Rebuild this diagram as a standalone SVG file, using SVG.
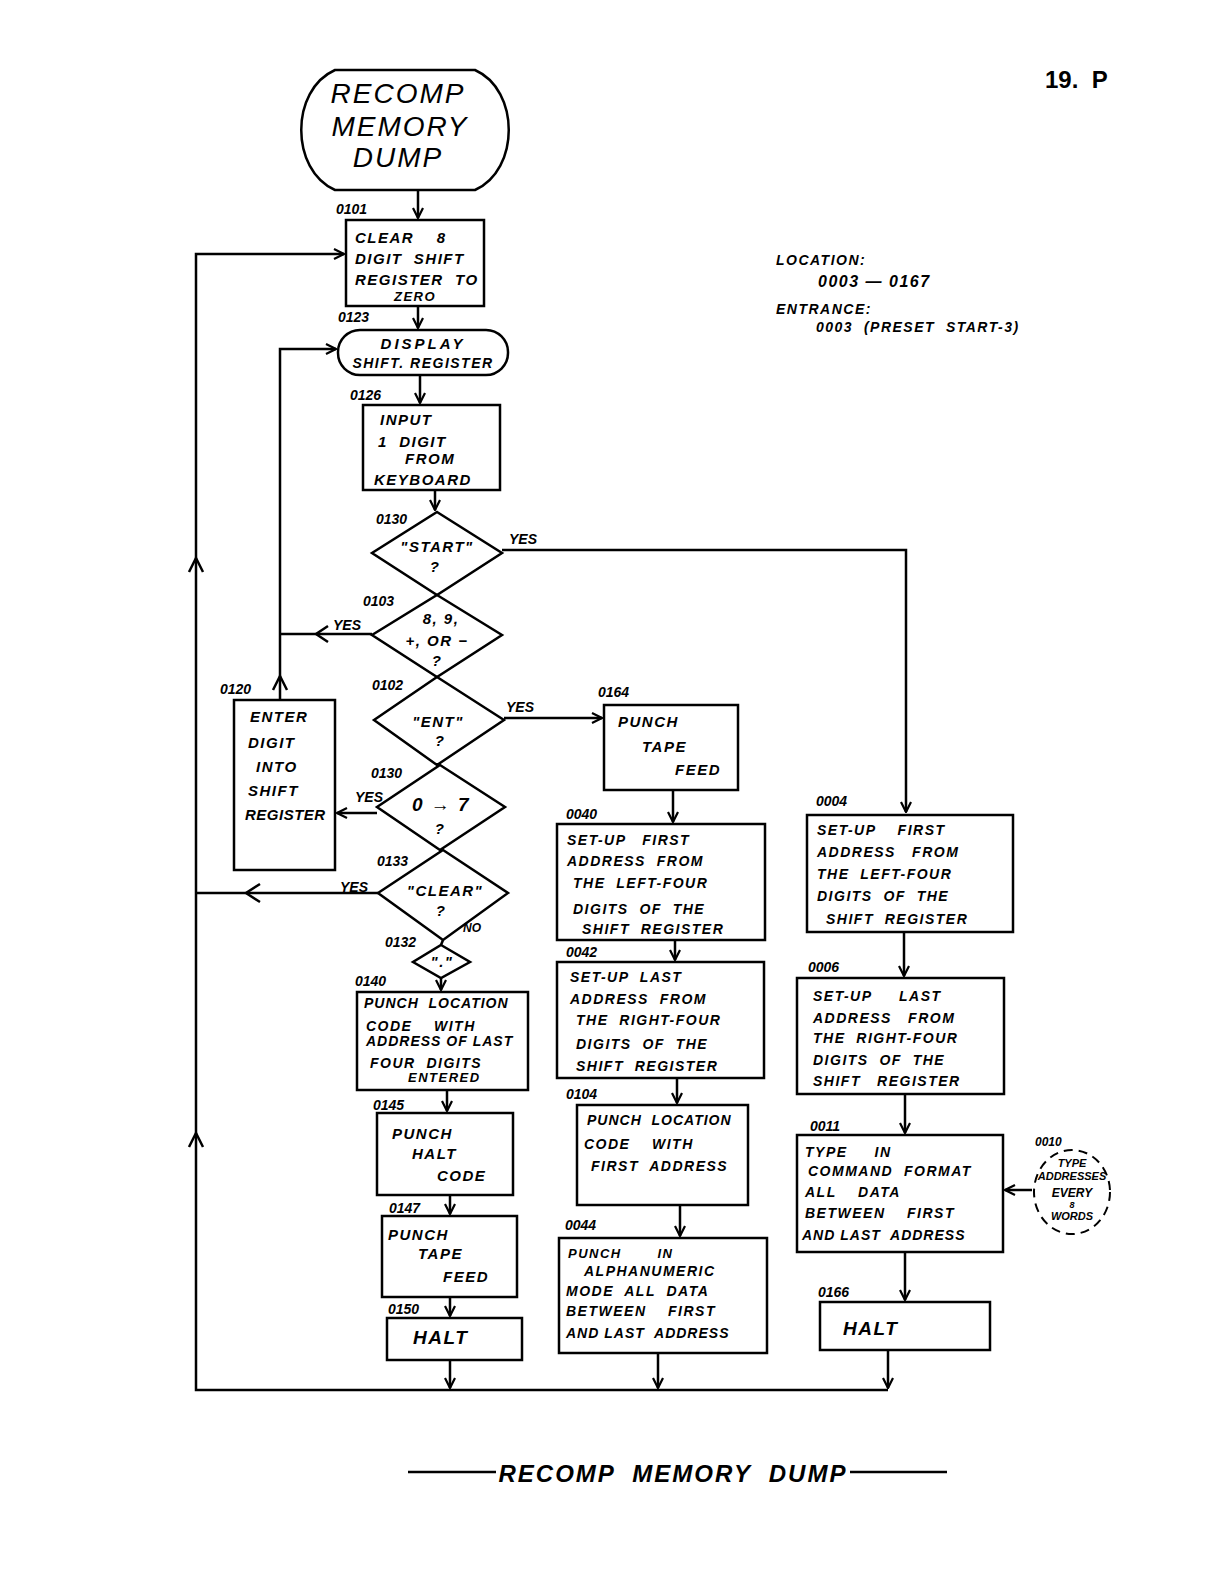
<svg xmlns="http://www.w3.org/2000/svg" width="1224" height="1584" viewBox="0 0 1224 1584">
<defs>
<marker id="ah" viewBox="0 0 12 12" refX="11" refY="6" markerWidth="12" markerHeight="12" markerUnits="userSpaceOnUse" orient="auto">
<path d="M1,1 L11,6 L1,11" fill="none" stroke="#000" stroke-width="2.2"/>
</marker>
</defs>
<style>
.s{fill:none;stroke:#000;stroke-width:2.5}
.c{fill:none;stroke:#000;stroke-width:2.5}
.t{font-family:"Liberation Sans",Arial,sans-serif;font-style:italic;font-weight:bold;font-size:15px;letter-spacing:1.5px;fill:#000;white-space:pre}
.m{text-anchor:middle}
.l{font-family:"Liberation Sans",Arial,sans-serif;font-style:italic;font-weight:bold;font-size:14px;fill:#000}
.big{font-family:"Liberation Sans",Arial,sans-serif;font-style:italic;font-size:28px;letter-spacing:2px;fill:#000}
</style>
<rect width="1224" height="1584" fill="#fff"/>

<g id="connectors">
<path class="c" d="M418,190 L418,218" marker-end="url(#ah)"/>
<path class="c" d="M418,306 L418,328" marker-end="url(#ah)"/>
<path class="c" d="M420,375 L420,403" marker-end="url(#ah)"/>
<path class="c" d="M435,490 L435,510" marker-end="url(#ah)"/>
<path class="c" d="M502,550 L906,550 L906,812" marker-end="url(#ah)"/>
<path class="c" d="M372,634 L280,634"/>
<path class="c" d="M328,626 L316,634 L328,642"/>
<path class="c" d="M280,700 L280,349 L336,349" marker-end="url(#ah)"/>
<path class="c" d="M273,690 L280,676 L287,690"/>
<path class="c" d="M504,718 L602,718" marker-end="url(#ah)"/>
<path class="c" d="M377,813 L337,813" marker-end="url(#ah)"/>
<path class="c" d="M378,893 L196,893"/>
<path class="c" d="M260,884 L246,893 L260,902"/>
<path class="c" d="M443,940 L441,945"/>
<path class="c" d="M441,978 L441,990" marker-end="url(#ah)"/>
<path class="c" d="M447,1090 L447,1111" marker-end="url(#ah)"/>
<path class="c" d="M450,1195 L450,1214" marker-end="url(#ah)"/>
<path class="c" d="M450,1297 L450,1316" marker-end="url(#ah)"/>
<path class="c" d="M450,1360 L450,1388" marker-end="url(#ah)"/>
<path class="c" d="M673,790 L673,822" marker-end="url(#ah)"/>
<path class="c" d="M675,940 L675,960" marker-end="url(#ah)"/>
<path class="c" d="M677,1078 L677,1103" marker-end="url(#ah)"/>
<path class="c" d="M680,1205 L680,1236" marker-end="url(#ah)"/>
<path class="c" d="M658,1353 L658,1388" marker-end="url(#ah)"/>
<path class="c" d="M904,932 L904,976" marker-end="url(#ah)"/>
<path class="c" d="M905,1094 L905,1133" marker-end="url(#ah)"/>
<path class="c" d="M1032,1190 L1005,1190" marker-end="url(#ah)"/>
<path class="c" d="M905,1252 L905,1300" marker-end="url(#ah)"/>
<path class="c" d="M888,1350 L888,1388" marker-end="url(#ah)"/>
<path class="c" d="M888,1390 L196,1390 L196,254 L344,254" marker-end="url(#ah)"/>
<path class="c" d="M189,572 L196,558 L203,572"/>
<path class="c" d="M189,1147 L196,1133 L203,1147"/>
</g>

<g id="n_start">
<path class="s" d="M335,70 L475,70 C520,90 520,170 475,190 L335,190 C290,170 290,90 335,70 Z"/>
<text class="big m" x="398" y="103">RECOMP</text>
<text class="big m" x="400" y="136">MEMORY</text>
<text class="big m" x="398" y="167">DUMP</text>
</g>

<g id="n_0101">
<rect class="s" x="346" y="220" width="138" height="86"/>
<text class="l" x="336" y="214">0101</text>
<text class="t" x="355" y="243">CLEAR    8</text>
<text class="t" x="355" y="264">DIGIT  SHIFT</text>
<text class="t" x="355" y="285">REGISTER  TO</text>
<text class="t m" x="415" y="301" style="font-size:13px">ZERO</text>
</g>

<g id="n_0123">
<rect class="s" x="338" y="330" width="170" height="45" rx="22" ry="22"/>
<text class="l" x="338" y="322">0123</text>
<text class="t m" x="423" y="349" style="letter-spacing:3px">DISPLAY</text>
<text class="t m" x="423" y="368" style="font-size:14px">SHIFT. REGISTER</text>
</g>

<g id="n_0126">
<rect class="s" x="363" y="405" width="137" height="85"/>
<text class="l" x="350" y="400">0126</text>
<text class="t" x="380" y="425">INPUT</text>
<text class="t" x="378" y="447">1  DIGIT</text>
<text class="t" x="405" y="464">FROM</text>
<text class="t" x="374" y="485">KEYBOARD</text>
</g>

<g id="n_0130a">
<polygon class="s" points="437,512 502,553 437,595 372,553"/>
<text class="l" x="376" y="524">0130</text>
<text class="t m" x="437" y="552">"START"</text>
<text class="t m" x="435" y="572">?</text>
<text class="l" x="509" y="544">YES</text>
</g>

<g id="n_0103">
<polygon class="s" points="437,595 502,635 437,677 372,635"/>
<text class="l" x="363" y="606">0103</text>
<text class="t m" x="441" y="624">8, 9,</text>
<text class="t m" x="437" y="646">+, OR −</text>
<text class="t m" x="437" y="666">?</text>
<text class="l" x="333" y="630">YES</text>
</g>

<g id="n_0102">
<polygon class="s" points="437,677 504,720 437,765 374,720"/>
<text class="l" x="372" y="690">0102</text>
<text class="t m" x="438" y="727">"ENT"</text>
<text class="t m" x="440" y="746">?</text>
<text class="l" x="506" y="712">YES</text>
</g>

<g id="n_0130b">
<polygon class="s" points="440,765 505,807 440,850 377,807"/>
<text class="l" x="371" y="778">0130</text>
<text class="t m" x="441" y="811" style="font-size:19px">0 → 7</text>
<text class="t m" x="440" y="834">?</text>
<text class="l" x="355" y="802">YES</text>
</g>

<g id="n_0120">
<rect class="s" x="234" y="700" width="101" height="170"/>
<text class="l" x="220" y="694">0120</text>
<text class="t" x="250" y="722">ENTER</text>
<text class="t" x="248" y="748">DIGIT</text>
<text class="t" x="256" y="772">INTO</text>
<text class="t" x="248" y="796">SHIFT</text>
<text class="t" x="245" y="820" style="letter-spacing:0.5px">REGISTER</text>
</g>

<g id="n_0133">
<polygon class="s" points="443,850 508,893 443,940 378,893"/>
<text class="l" x="377" y="866">0133</text>
<text class="t m" x="445" y="896">"CLEAR"</text>
<text class="t m" x="441" y="916">?</text>
<text class="l" x="340" y="892">YES</text>
<text class="l" x="463" y="932" style="font-size:12px">NO</text>
</g>

<g id="n_0132">
<polygon class="s" points="441,945 470,962 441,978 413,962"/>
<text class="l" x="385" y="947">0132</text>
<text class="t m" x="442" y="967">"."</text>
</g>

<g id="n_0140">
<rect class="s" x="357" y="992" width="171" height="98"/>
<text class="l" x="355" y="986">0140</text>
<text class="t" x="364" y="1008" style="font-size:14px;letter-spacing:1px">PUNCH  LOCATION</text>
<text class="t" x="366" y="1031" style="font-size:14px">CODE    WITH</text>
<text class="t" x="366" y="1046" style="font-size:14px;letter-spacing:1px">ADDRESS OF LAST</text>
<text class="t" x="370" y="1068" style="font-size:14px">FOUR  DIGITS</text>
<text class="t" x="408" y="1082" style="font-size:13px">ENTERED</text>
</g>

<g id="n_0145">
<rect class="s" x="377" y="1113" width="136" height="82"/>
<text class="l" x="373" y="1110">0145</text>
<text class="t" x="392" y="1139">PUNCH</text>
<text class="t" x="412" y="1159">HALT</text>
<text class="t" x="437" y="1181">CODE</text>
</g>

<g id="n_0147">
<rect class="s" x="382" y="1216" width="135" height="81"/>
<text class="l" x="389" y="1213">0147</text>
<text class="t" x="388" y="1240">PUNCH</text>
<text class="t" x="418" y="1259">TAPE</text>
<text class="t" x="443" y="1282">FEED</text>
</g>

<g id="n_0150">
<rect class="s" x="387" y="1318" width="135" height="42"/>
<text class="l" x="388" y="1314">0150</text>
<text class="t" x="413" y="1344" style="font-size:19px">HALT</text>
</g>

<g id="n_0164">
<rect class="s" x="604" y="705" width="134" height="85"/>
<text class="l" x="598" y="697">0164</text>
<text class="t" x="618" y="727">PUNCH</text>
<text class="t" x="642" y="752">TAPE</text>
<text class="t" x="675" y="775">FEED</text>
</g>

<g id="n_0040">
<rect class="s" x="557" y="824" width="208" height="116"/>
<text class="l" x="566" y="819">0040</text>
<text class="t" x="567" y="845" style="font-size:14px">SET-UP   FIRST</text>
<text class="t" x="567" y="866" style="font-size:14px">ADDRESS  FROM</text>
<text class="t" x="573" y="888" style="font-size:14px">THE  LEFT-FOUR</text>
<text class="t" x="573" y="914" style="font-size:14px">DIGITS  OF  THE</text>
<text class="t" x="582" y="934" style="font-size:14px">SHIFT  REGISTER</text>
</g>

<g id="n_0042">
<rect class="s" x="557" y="962" width="207" height="116"/>
<text class="l" x="566" y="957">0042</text>
<text class="t" x="570" y="982" style="font-size:14px">SET-UP  LAST</text>
<text class="t" x="570" y="1004" style="font-size:14px">ADDRESS  FROM</text>
<text class="t" x="576" y="1025" style="font-size:14px">THE  RIGHT-FOUR</text>
<text class="t" x="576" y="1049" style="font-size:14px">DIGITS  OF  THE</text>
<text class="t" x="576" y="1071" style="font-size:14px">SHIFT  REGISTER</text>
</g>

<g id="n_0104">
<rect class="s" x="577" y="1105" width="171" height="100"/>
<text class="l" x="566" y="1099">0104</text>
<text class="t" x="587" y="1125" style="font-size:14px;letter-spacing:1px">PUNCH  LOCATION</text>
<text class="t" x="584" y="1149" style="font-size:14px">CODE    WITH</text>
<text class="t" x="591" y="1171" style="font-size:14px">FIRST  ADDRESS</text>
</g>

<g id="n_0044">
<rect class="s" x="559" y="1238" width="208" height="115"/>
<text class="l" x="565" y="1230">0044</text>
<text class="t" x="568" y="1258" style="font-size:13px">PUNCH       IN</text>
<text class="t" x="584" y="1276" style="font-size:14px">ALPHANUMERIC</text>
<text class="t" x="566" y="1296" style="font-size:14px">MODE  ALL  DATA</text>
<text class="t" x="566" y="1316" style="font-size:14px">BETWEEN    FIRST</text>
<text class="t" x="566" y="1338" style="font-size:14px;letter-spacing:1px">AND LAST  ADDRESS</text>
</g>

<g id="n_0004">
<rect class="s" x="807" y="815" width="206" height="117"/>
<text class="l" x="816" y="806">0004</text>
<text class="t" x="817" y="835" style="font-size:14px">SET-UP    FIRST</text>
<text class="t" x="817" y="857" style="font-size:14px">ADDRESS   FROM</text>
<text class="t" x="817" y="879" style="font-size:14px">THE  LEFT-FOUR</text>
<text class="t" x="817" y="901" style="font-size:14px">DIGITS  OF  THE</text>
<text class="t" x="826" y="924" style="font-size:14px">SHIFT  REGISTER</text>
</g>

<g id="n_0006">
<rect class="s" x="797" y="978" width="207" height="116"/>
<text class="l" x="808" y="972">0006</text>
<text class="t" x="813" y="1001" style="font-size:14px">SET-UP     LAST</text>
<text class="t" x="813" y="1023" style="font-size:14px">ADDRESS   FROM</text>
<text class="t" x="813" y="1043" style="font-size:14px">THE  RIGHT-FOUR</text>
<text class="t" x="813" y="1065" style="font-size:14px">DIGITS  OF  THE</text>
<text class="t" x="813" y="1086" style="font-size:14px">SHIFT   REGISTER</text>
</g>

<g id="n_0011">
<rect class="s" x="797" y="1135" width="206" height="117"/>
<text class="l" x="810" y="1131">0011</text>
<text class="t" x="805" y="1157" style="font-size:14px">TYPE     IN</text>
<text class="t" x="808" y="1176" style="font-size:14px">COMMAND  FORMAT</text>
<text class="t" x="805" y="1197" style="font-size:14px">ALL    DATA</text>
<text class="t" x="805" y="1218" style="font-size:14px">BETWEEN    FIRST</text>
<text class="t" x="802" y="1240" style="font-size:14px;letter-spacing:1px">AND LAST  ADDRESS</text>
</g>

<g id="n_0010">
<ellipse cx="1072" cy="1192" rx="38" ry="42" fill="none" stroke="#000" stroke-width="2" stroke-dasharray="9,6"/>
<text class="l" x="1035" y="1146" style="font-size:12px">0010</text>
<text class="t m" x="1072" y="1167" style="font-size:11px;letter-spacing:0">TYPE</text>
<text class="t m" x="1072" y="1180" style="font-size:11px;letter-spacing:0">ADDRESSES</text>
<text class="t m" x="1072" y="1197" style="font-size:12px;letter-spacing:0">EVERY</text>
<text class="t m" x="1072" y="1208" style="font-size:9px;letter-spacing:0">8</text>
<text class="t m" x="1072" y="1220" style="font-size:11px;letter-spacing:0">WORDS</text>
</g>

<g id="n_0166">
<rect class="s" x="820" y="1302" width="170" height="48"/>
<text class="l" x="818" y="1297">0166</text>
<text class="t" x="843" y="1335" style="font-size:19px">HALT</text>
</g>

<g id="notes">
<text class="t" x="776" y="265" style="font-size:14px">LOCATION:</text>
<text class="t" x="818" y="287" style="font-size:16px">0003 — 0167</text>
<text class="t" x="776" y="314" style="font-size:14px">ENTRANCE:</text>
<text class="t" x="816" y="332" style="font-size:14px">0003  (PRESET  START-3)</text>
<text x="1045" y="88" style="font-family:'Liberation Sans',Arial,sans-serif;font-weight:bold;font-size:24px;fill:#000;white-space:pre">19.  P</text>
</g>

<g id="title">
<line x1="408" y1="1472" x2="496" y2="1472" stroke="#000" stroke-width="2.5"/>
<line x1="850" y1="1472" x2="947" y2="1472" stroke="#000" stroke-width="2.5"/>
<text class="t m" x="673" y="1482" style="font-size:24px;letter-spacing:2px">RECOMP  MEMORY  DUMP</text>
</g>
</svg>
